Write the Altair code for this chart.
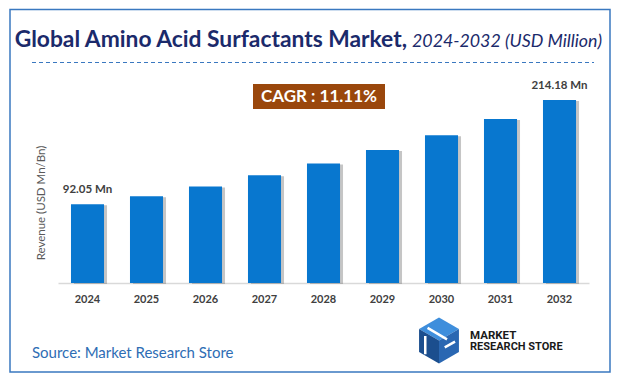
import altair as alt
import pandas as pd

years = ["2024", "2025", "2026", "2027", "2028", "2029", "2030", "2031", "2032"]
revenue = [92.05, 101.5, 113.0, 126.0, 140.0, 155.6, 173.0, 192.0, 214.18]
labels = ["92.05 Mn", "", "", "", "", "", "", "", "214.18 Mn"]

title_main = "Global Amino Acid Surfactants Market,"
title_sub = "2024-2032 (USD Million)"
cagr_text = "CAGR : 11.11%"
y_title = "Revenue (USD Mn/Bn)"
source_text = "Source: Market Research Store"
logo_line1 = "MARKET"
logo_line2 = "RESEARCH STORE"

FONT = "Lato"
BAR = "#0877CF"
NAVY = "#1B2A6B"
BORDER = "#3A78C0"

df = pd.DataFrame({"year": years, "revenue": revenue, "label": labels})
one = pd.DataFrame({"k": [0]})

xenc = alt.X("year:N", sort=years,
             scale=alt.Scale(paddingInner=0.44, paddingOuter=0.22),
             axis=alt.Axis(title=None, ticks=False, labelAngle=0, labelFont=FONT,
                           labelFontWeight="bold", labelFontSize=11, labelColor="#404040",
                           labelPadding=10, domainColor="#D9D9D9", domainWidth=1.5))
yenc = alt.Y("revenue:Q", scale=alt.Scale(domain=[0, 261], nice=False), axis=None)

base = alt.Chart(df)
shadow = base.mark_bar(color="#7F7F7F", opacity=0.45, xOffset=3, yOffset=1).encode(x=xenc, y=yenc)
bars = base.mark_bar(color=BAR).encode(x=xenc, y=yenc)
vals = base.mark_text(font=FONT, fontWeight="bold", fontSize=11.5, color="#404040",
                      baseline="bottom", dy=-9).encode(x=xenc, y=yenc, text="label:N")

deco = alt.Chart(one)
border = deco.mark_rect(filled=False, stroke=BORDER, strokeWidth=1.5).encode(
    x=alt.value(-48), x2=alt.value(552), y=alt.value(-50.5), y2=alt.value(312))
t1 = deco.mark_text(font=FONT, fontWeight="bold", fontSize=22.8, color=NAVY,
                    align="right", baseline="alphabetic").encode(
    x=alt.value(349), y=alt.value(-13), text=alt.value(title_main))
t2 = deco.mark_text(font=FONT, fontStyle="italic", fontSize=17.8, color=NAVY,
                    align="left", baseline="alphabetic").encode(
    x=alt.value(354), y=alt.value(-13), text=alt.value(title_sub))
dash = deco.mark_rule(color=BORDER, strokeDash=[4, 3], strokeWidth=1).encode(
    x=alt.value(-26), x2=alt.value(536), y=alt.value(2.5))
cbox = deco.mark_rect(color="#9A470C").encode(
    x=alt.value(195), x2=alt.value(327), y=alt.value(24), y2=alt.value(49))
ctext = deco.mark_text(font=FONT, fontWeight="bold", fontSize=17, color="white",
                       align="center", baseline="middle").encode(
    x=alt.value(261), y=alt.value(37), text=alt.value(cagr_text))
ytit = deco.mark_text(font=FONT, fontSize=11.5, color="#595959", angle=270,
                      align="center", baseline="middle").encode(
    x=alt.value(-16), y=alt.value(143), text=alt.value(y_title))
src = deco.mark_text(font=FONT, fontSize=15, color="#2E6DB4",
                     align="left", baseline="alphabetic").encode(
    x=alt.value(-26), y=alt.value(298), text=alt.value(source_text))

# logo cube faces
top_face = "M0,-1L0.87,-0.5L0,0L-0.87,-0.5Z"
left_face = "M-0.87,-0.5L0,0L0,1L-0.87,0.5Z"
right_face = "M0,0L0.87,-0.5L0.87,0.5L0,1Z"
cube = []
for shp, col in [(top_face, "#3E8EDC"), (left_face, "#1B4E8E"), (right_face, "#2A67B2")]:
    cube.append(deco.mark_point(shape=shp, filled=True, fill=col, opacity=1, size=2100,
                                strokeWidth=0).encode(x=alt.value(381), y=alt.value(280.5)))
stripe = deco.mark_point(shape="M-0.5,-0.55L0.35,-0.05M-0.6,-0.2L-0.6,0.6M0.25,0.3L0.7,0.05",
                         filled=False, stroke="white", strokeWidth=2.5, size=2100,
                         opacity=1).encode(x=alt.value(381), y=alt.value(280.5))
lg1 = deco.mark_text(font="Roboto", fontWeight="bold", fontSize=11.5, color="#1A1A1A",
                     align="left", baseline="alphabetic").encode(
    x=alt.value(412), y=alt.value(278.5), text=alt.value(logo_line1))
lg2 = deco.mark_text(font="Roboto", fontWeight="bold", fontSize=11, color="#1A1A1A",
                     align="left", baseline="alphabetic").encode(
    x=alt.value(412), y=alt.value(290), text=alt.value(logo_line2))

chart = alt.layer(border, t1, t2, dash, cbox, ctext, ytit, shadow, bars, vals, src,
                  *cube, stripe, lg1, lg2).properties(
    width=531, height=223,
    autosize=alt.AutoSizeParams(type="none"),
    padding={"left": 50, "top": 52, "right": 26, "bottom": 93},
    background="white",
).configure_view(stroke=None)

chart.save("out.html", embed_options={"renderer": "svg", "actions": False})
